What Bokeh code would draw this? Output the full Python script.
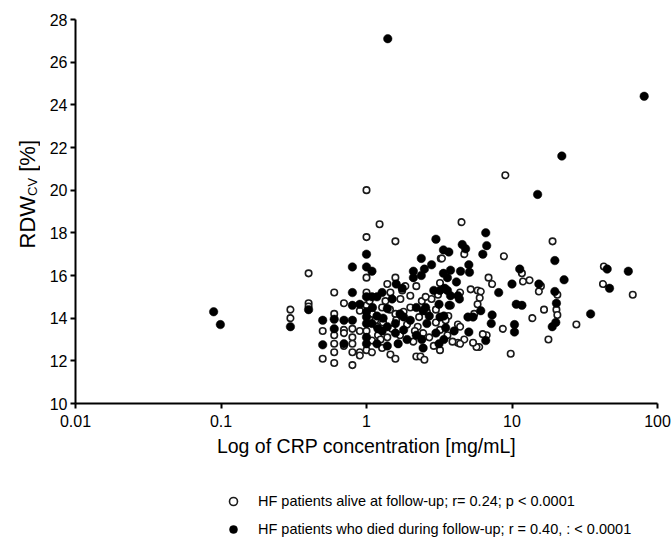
from bokeh.plotting import figure
from bokeh.models import Range1d, FixedTicker, Legend, LegendItem, Label
from bokeh.layouts import row, column
from bokeh.embed import file_html
from bokeh.resources import INLINE
import math

# ---- data ----
alive_x = [0.30, 0.30, 0.40, 0.40, 0.40, 0.50, 0.50, 0.60, 0.60, 0.60, 0.60, 0.60, 0.60,
           0.70, 0.70, 0.70, 0.70, 0.80, 0.80, 0.80, 0.80, 0.80, 0.90, 0.90, 0.90, 0.90,
           1.0, 1.0, 1.0, 1.0, 1.0, 1.0, 1.0, 1.09, 1.09, 1.18, 1.23, 1.28, 1.28,
           1.39, 1.39, 1.46, 1.46, 1.58, 1.58, 1.58, 1.58, 1.71, 1.76,
           2.0, 2.2, 2.25, 2.3, 2.45, 2.2, 2.35, 2.5, 3.24, 3.2, 3.2, 3.2,
           3.3, 4.7, 4.5, 8.8, 9.0, 19.0, 11.7, 13.2, 11.9, 6.9, 7.3, 15.8, 15.3, 20.5,
           20.2, 20.5, 16.6, 13.8, 17.8, 27.7, 42.8, 42.2, 67.6, 9.8, 8.65,
           6.7, 6.3, 5.95, 5.7, 5.4, 5.5, 5.2, 5.8, 6.1, 6.0, 5.8, 4.4, 4.25, 4.4, 4.7,
           4.25, 4.4, 3.8, 3.65,
           1.1, 1.15, 1.2, 1.3, 1.35, 1.5, 1.6, 1.7, 1.8, 1.9, 2.0, 2.1, 2.4, 2.6, 2.7,
           2.8, 3.0, 3.0, 2.9, 1.25, 1.05, 2.15, 2.55, 1.65, 3.5, 3.6, 3.9, 3.1, 1.45, 1.85]
alive_y = [14.4, 14.0, 16.1, 14.7, 14.55, 13.4, 12.1, 15.2, 14.2, 13.2, 12.8, 12.4, 11.9,
           14.7, 13.45, 13.3, 12.7, 13.5, 13.1, 12.8, 12.4, 11.8, 14.35, 13.4, 12.4, 12.25,
           20.0, 17.8, 15.9, 15.2, 14.6, 13.4, 12.5, 12.4, 12.95, 13.6, 18.4, 14.5, 12.6,
           15.6, 13.1, 15.2, 12.3, 17.6, 15.9, 14.2, 12.1, 14.9, 15.3,
           15.05, 15.5, 13.6, 14.05, 13.3, 12.2, 12.2, 12.05, 16.8, 15.65, 13.45, 12.5,
           16.8, 17.0, 18.5, 16.9, 20.7, 17.6, 16.1, 15.78, 15.72, 15.9, 15.6, 15.5, 15.25, 15.1,
           14.4, 14.15, 14.4, 14.0, 13.0, 13.7, 16.42, 15.6, 15.1, 12.33, 13.5,
           13.2, 13.25, 12.65, 12.65, 12.85, 14.2, 15.35, 15.3, 15.25, 14.95, 14.65, 15.2, 13.7, 13.6, 13.0,
           12.85, 12.8, 14.6, 14.1,
           14.2, 13.9, 13.2, 13.8, 14.8, 13.5, 13.9, 13.2, 14.3, 13.7, 14.5, 12.9, 14.8, 14.3, 13.1,
           14.9, 13.8, 14.4, 12.7, 13.0, 14.8, 13.4, 15.0, 12.8, 13.9, 13.2, 12.9, 15.1, 14.4, 15.5]

died_x = [0.089, 0.099, 0.30, 0.40, 0.50, 0.50, 0.60, 0.60, 0.70, 0.70,
          0.80, 0.80, 0.80, 0.80, 0.90,
          1.0, 1.0, 1.0, 1.0, 1.0, 1.0, 1.0, 1.0,
          1.09, 1.09, 1.09, 1.18, 1.18, 1.18, 1.28, 1.28,
          1.39, 1.39, 1.39, 1.58, 1.58, 1.65, 1.76, 1.8, 1.8,
          2.1, 2.1, 2.2, 2.38, 2.38, 2.45, 2.45, 2.5, 2.55, 2.6,
          3.0, 3.2, 3.15, 3.2, 3.15, 3.38, 3.38,
          81, 22, 15, 6.6, 6.7, 6.3, 4.55, 4.8, 3.68, 19.7, 5.05, 3.78, 4.43, 5.1, 3.6, 4.15,
          11.3, 10.0, 15.3, 22.8, 19.7, 20.2, 20.0, 18.9, 34.7, 45.1, 46.8, 63, 10.4, 10.4,
          10.7, 11.7, 8.1, 7.3, 6.1, 7.2, 6.6, 5.05, 4.98, 5.4, 4.25, 4.35, 3.45, 3.6, 3.4,
          3.5, 3.4, 3.78, 1.4,
          1.1, 1.3, 1.5, 1.7, 2.0, 2.2, 2.7, 2.9, 1.2, 2.4, 3.0, 1.6, 2.8, 1.9, 4.0, 3.7]
died_y = [14.3, 13.7, 13.6, 14.4, 13.9, 12.75, 13.95, 13.5, 13.9, 12.8,
          16.4, 15.2, 14.6, 13.9, 14.65,
          17.0, 16.4, 15.0, 14.3, 14.06, 13.75, 13.1, 12.8,
          16.2, 15.0, 13.75, 15.0, 14.1, 12.8, 15.2, 13.4,
          14.45, 13.6, 12.7, 13.75, 13.3, 12.8, 15.4, 14.06, 13.45,
          16.2, 15.9, 14.5, 16.8, 16.0, 14.35, 12.6, 16.3, 14.5, 13.75,
          17.7, 15.3, 14.65, 14.05, 12.8, 17.2, 16.1,
          24.4, 21.6, 19.8, 18.0, 17.4, 17.0, 17.45, 17.25, 17.1, 16.7, 16.5, 16.25, 16.2, 16.15, 15.9, 15.7,
          16.3, 15.6, 15.6, 15.8, 15.25, 14.7, 13.8, 13.6, 14.2, 16.3, 15.4, 16.2, 13.7, 13.35,
          14.65, 14.6, 15.2, 14.15, 14.35, 13.75, 12.95, 13.35, 14.05, 14.05, 15.05, 14.9, 15.4, 15.3, 13.0,
          13.55, 14.1, 15.05, 27.1,
          14.5, 14.0, 14.9, 14.2, 13.9, 13.2, 14.1, 15.3, 13.5, 13.0, 13.3, 15.6, 16.5, 13.0, 13.4, 14.6]

x_ticks = [0.01, 0.1, 1, 10, 100]
x_tick_labels = ["0.01", "0.1", "1", "10", "100"]
y_ticks = [10, 12, 14, 16, 18, 20, 22, 24, 26, 28]

label_alive = "HF patients alive at follow-up; r= 0.24; p < 0.0001"
label_died = "HF patients who died during follow-up; r = 0.40, : < 0.0001"
x_title = "Log of CRP concentration [mg/mL]"
y_title_parts = ["RDW", "CV", "[%]"]

FONT = "Liberation Sans"
LAB_W = 40
TOP, FRAME_H, BOTTOM = 19, 384, 70
P_H = TOP + FRAME_H + BOTTOM      # 473
LEG_H = 72
PAGE_W = 671

# ---------------- main scatter figure ----------------
p = figure(x_axis_type="log",
           x_range=Range1d(0.01, 100), y_range=Range1d(10, 28),
           output_backend="svg", toolbar_location=None,
           frame_width=582, frame_height=FRAME_H,
           min_border_left=75 - LAB_W, min_border_right=14, min_border_top=TOP,
           min_border_bottom=BOTTOM)
p.outline_line_color = None
p.xgrid.visible = False
p.ygrid.visible = False

alive_style = dict(marker="circle", fill_color="white", line_color="#1a1a1a", line_width=1.6)
died_style = dict(marker="circle", fill_color="black", line_color="black", line_width=0.5)
r_alive = p.scatter(alive_x, alive_y, size=6.5, **alive_style)
r_died = p.scatter(died_x, died_y, size=8.5, **died_style)

for ax in (p.xaxis[0], p.yaxis[0]):
    ax.axis_line_width = 2
    ax.axis_line_color = "black"
    ax.major_tick_line_width = 2
    ax.major_tick_line_color = "black"
    ax.major_tick_out = 5
    ax.major_tick_in = 0
    ax.minor_tick_line_color = None
    ax.major_label_text_font = FONT
    ax.major_label_text_font_size = "16px"
    ax.major_label_text_color = "black"

p.xaxis[0].ticker = FixedTicker(ticks=x_ticks, minor_ticks=[])
p.xaxis[0].major_label_overrides = {t: s for t, s in zip(x_ticks, x_tick_labels)}
p.xaxis[0].major_label_standoff = 6
p.xaxis[0].axis_label = x_title
p.xaxis[0].axis_label_text_font = FONT
p.xaxis[0].axis_label_text_font_size = "19.5px"
p.xaxis[0].axis_label_text_font_style = "normal"
p.xaxis[0].axis_label_text_color = "black"
p.xaxis[0].axis_label_standoff = 5

p.yaxis[0].ticker = FixedTicker(ticks=y_ticks, minor_ticks=[])
p.yaxis[0].major_label_standoff = 3

# ---------------- y-axis title strip (rotated text with subscript) ----------------
lab = figure(x_range=Range1d(0, LAB_W), y_range=Range1d(0, P_H),
             frame_width=LAB_W, frame_height=P_H,
             x_axis_location=None, y_axis_location=None,
             output_backend="svg", toolbar_location=None,
             min_border=0, min_border_left=0, min_border_right=0,
             min_border_top=0, min_border_bottom=0)
lab.xgrid.visible = False
lab.ygrid.visible = False
lab.outline_line_color = None

big, small = 22, 13
w_rdw = 2.388 * big
w_cv = 1.389 * small
w_space = 0.278 * big
start_y = P_H - 229          # lower end of the rotated title
cx = 27
common = dict(angle=math.pi / 2, text_font=FONT, text_color="black",
              text_align="left", text_baseline="middle")
lab.add_layout(Label(x=cx, y=start_y, text=y_title_parts[0], text_font_size=f"{big}px", **common))
lab.add_layout(Label(x=cx + 5, y=start_y + w_rdw, text=y_title_parts[1],
                     text_font_size=f"{small}px", **common))
lab.add_layout(Label(x=cx, y=start_y + w_rdw + w_cv + w_space, text=y_title_parts[2],
                     text_font_size=f"{big}px", **common))

# ---------------- legend strip below the chart ----------------
leg = figure(x_range=Range1d(0, PAGE_W), y_range=Range1d(0, LEG_H),
             frame_width=PAGE_W, frame_height=LEG_H,
             x_axis_location=None, y_axis_location=None,
             output_backend="svg", toolbar_location=None,
             min_border=0, min_border_left=0, min_border_right=0,
             min_border_top=0, min_border_bottom=0)
leg.xgrid.visible = False
leg.ygrid.visible = False
leg.outline_line_color = None
# legend key renderers: one off-range point each, only so the legend can draw its swatch
k_alive = leg.scatter(x=[-100], y=[-100], size=5.5, **alive_style)
k_died = leg.scatter(x=[-100], y=[-100], size=7.5, **died_style)
legend = Legend(items=[LegendItem(label=label_alive, renderers=[k_alive]),
                       LegendItem(label=label_died, renderers=[k_died])],
                location=(223, 6), padding=0, margin=0, spacing=8,
                glyph_width=20, glyph_height=20, label_height=20, label_standoff=15,
                label_text_font=FONT, label_text_font_size="14.5px",
                label_text_color="black",
                border_line_color=None, background_fill_alpha=0)
leg.add_layout(legend, "center")

layout = column(row(lab, p, spacing=0), leg, spacing=0)
open("out.html", "w").write(file_html(layout, INLINE))
